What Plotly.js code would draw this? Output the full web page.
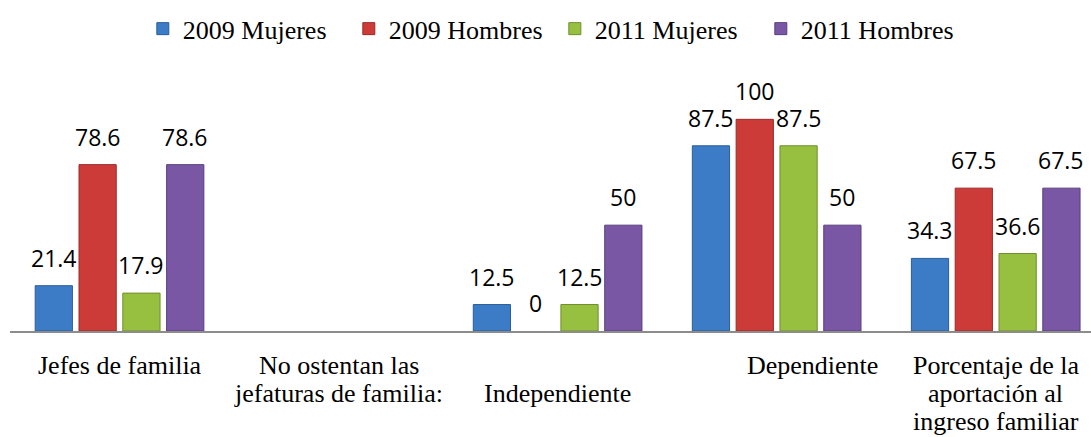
<!DOCTYPE html>
<html>
<head>
<meta charset="utf-8">
<script src="https://cdn.plot.ly/plotly-3.0.1.min.js"></script>
<style>
  html, body { margin: 0; padding: 0; background: #fff; }
  #chart { width: 1091px; height: 437px; }
</style>
</head>
<body>
<div id="chart"></div>
<script>
const categories = [
  "Jefes de familia",
  "No ostentan las jefaturas de familia:",
  "Independiente",
  "Dependiente",
  "Porcentaje de la aportación al ingreso familiar"
];
// how each category label breaks into lines ("" = empty line)
const categoryLines = [
  ["Jefes de familia"],
  ["No ostentan las", "jefaturas de familia:"],
  ["", "Independiente"],
  ["Dependiente"],
  ["Porcentaje de la", "aportación al", "ingreso familiar"]
];
const seriesNames = ["2009 Mujeres", "2009 Hombres", "2011 Mujeres", "2011 Hombres"];
const mujeres2009 = [21.4, null, 12.5, 87.5, 34.3];
const hombres2009 = [78.6, null, 0, 100, 67.5];
const mujeres2011 = [17.9, null, 12.5, 87.5, 36.6];
const hombres2011 = [78.6, null, 50, 50, 67.5];

const seriesValues = [mujeres2009, hombres2009, mujeres2011, hombres2011];
const fills = ["#3c7cc7", "#cc3b38", "#98c040", "#7a57a5"];
const edges = ["#2b5d98", "#9b2a28", "#6f8f2a", "#5a3f7d"];

const BARGAP = 0.2;
const GROUPGAP = 0.15;
const serif = "'Liberation Serif', 'Times New Roman', serif";
const sans = "'Open Sans', Calibri, sans-serif";

const traces = seriesValues.map((vals, i) => ({
  type: "bar",
  name: seriesNames[i],
  x: categories,
  y: vals,
  marker: {
    color: fills[i],
    // no outline on zero-height bars, so nothing shows there
    line: { color: edges[i], width: vals.map(v => (v ? 1 : 0)) }
  },
  hoverinfo: "skip"
}));

// value labels above each bar
const slot = (1 - BARGAP) / seriesValues.length;
const annotations = [];
seriesValues.forEach((vals, i) => {
  vals.forEach((v, c) => {
    if (v === null) return;
    annotations.push({
      x: c + (i - (seriesValues.length - 1) / 2) * slot,
      y: v, xref: "x", yref: "y",
      text: String(v), showarrow: false,
      yanchor: "bottom", yshift: 10,
      font: { family: sans, size: 23, color: "#000" }
    });
  });
});

// category labels, one annotation per line
const LINE_H = 28;
categoryLines.forEach((lines, c) => {
  lines.forEach((line, k) => {
    if (!line) return;
    annotations.push({
      x: c, y: 0, xref: "x", yref: "paper",
      text: line, showarrow: false,
      yanchor: "top", yshift: -18 - k * LINE_H,
      xshift: categories[c] === "Dependiente" ? 36 : 0,
      font: { family: serif, size: 26, color: "#000" }
    });
  });
});

Plotly.newPlot("chart", traces, {
  width: 1091, height: 437,
  margin: { l: 10, r: 0, t: 77, b: 106 },
  paper_bgcolor: "#fff", plot_bgcolor: "#fff",
  barmode: "group", bargap: BARGAP, bargroupgap: GROUPGAP,
  showlegend: true,
  legend: {
    orientation: "h", x: 0.504, xanchor: "center", y: 1.19, yanchor: "middle",
    font: { family: serif, size: 26, color: "#000" },
    entrywidth: 161, traceorder: "normal"
  },
  xaxis: {
    type: "category", categoryorder: "array", categoryarray: categories,
    range: [-0.5, 4.435], showticklabels: false, ticks: "",
    showline: true, linecolor: "#8c8c8c", linewidth: 2, showgrid: false, zeroline: false
  },
  yaxis: { range: [0, 120], visible: false, showgrid: false, zeroline: false },
  annotations: annotations
}, { displayModeBar: false, staticPlot: true });
</script>
</body>
</html>
